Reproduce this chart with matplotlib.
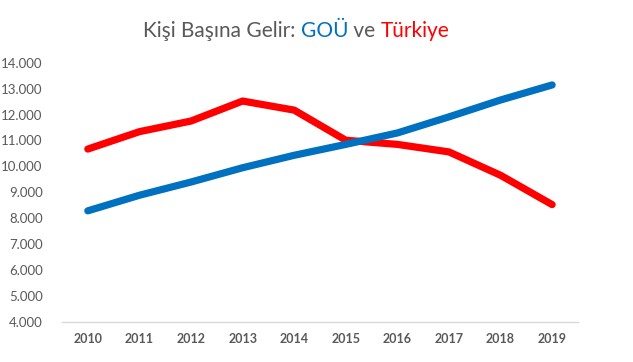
import matplotlib
matplotlib.use("Agg")
import matplotlib.pyplot as plt

years = ["2010", "2011", "2012", "2013", "2014", "2015", "2016", "2017", "2018", "2019"]
gou = [8290, 8890, 9400, 9950, 10430, 10850, 11290, 11910, 12560, 13140]
turkiye = [10670, 11340, 11750, 12520, 12170, 11010, 10850, 10560, 9660, 8530]
yticks = [4000, 5000, 6000, 7000, 8000, 9000, 10000, 11000, 12000, 13000, 14000]
title_parts = [("Kişi Başına Gelir: ", "#595959"), ("GOÜ", "#0070C0"), (" ve ", "#595959"), ("Türkiye", "#FF0000")]

plt.rcParams['font.family'] = ['Lato', 'DejaVu Sans']

fig = plt.figure(figsize=(6.33, 3.62), dpi=100)
ax = fig.add_axes([0.098, 0.110, 0.815, 0.717])

x = list(range(len(years)))
ax.plot(x, turkiye, color="#FF0000", lw=5.2, solid_capstyle="round", solid_joinstyle="round", zorder=2)
ax.plot(x, gou, color="#0070C0", lw=5.2, solid_capstyle="round", solid_joinstyle="round", zorder=3)

ax.set_xlim(-0.5, len(years) - 0.5)
ax.set_ylim(4000, 14000)
ax.set_xticks(x)
ax.set_xticklabels(years, fontweight="bold", fontsize=9, color="#595959")
ax.set_yticks(yticks)
ax.set_yticklabels([f"{v:,}".replace(",", ".") for v in yticks], fontsize=9.5, color="#595959")
ax.tick_params(axis="both", length=0)
ax.tick_params(axis="x", pad=8)
ax.tick_params(axis="y", pad=14)
for s in ["top", "right", "left"]:
    ax.spines[s].set_visible(False)
ax.spines["bottom"].set_color("#D9D9D9")
ax.spines["bottom"].set_linewidth(1)

# multi-coloured title
texts = []
for t, c in title_parts:
    texts.append(fig.text(0, 0.915, t, color=c, fontsize=15, va="center", ha="left"))
fig.canvas.draw()
r = fig.canvas.get_renderer()
widths = [tt.get_window_extent(r).width for tt in texts]
total = sum(widths)
cx = 296
start = cx - total / 2
W = fig.bbox.width
for tt, w in zip(texts, widths):
    tt.set_x(start / W)
    start += w

fig.savefig("out.png", dpi=100)
